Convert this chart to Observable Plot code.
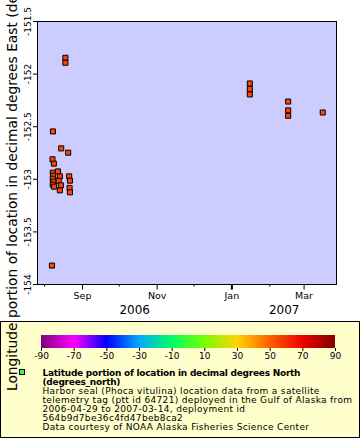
<!DOCTYPE html>
<html><head><meta charset="utf-8">
<script src="https://cdn.jsdelivr.net/npm/d3@7"></script>
<script src="https://cdn.jsdelivr.net/npm/@observablehq/plot@0.6"></script>
<style>
html,body{margin:0;padding:0;background:#fff;font-family:"DejaVu Sans",sans-serif;}
#wrap{position:relative;width:360px;height:440px;}
#chart{position:absolute;left:0;top:0;z-index:2;}
#chart svg{overflow:visible;}
#legend{position:absolute;left:0;top:321px;width:360px;height:117px;box-sizing:border-box;border:1px solid #000;background:#ffffcc;z-index:1;}
#bar{position:absolute;left:0;top:0;}
#swatch{position:absolute;left:18px;top:47px;width:4px;height:4px;border:1px solid #000;background:#33ff33;}
#txt{position:absolute;left:41.5px;top:46.5px;font-size:9px;line-height:9px;letter-spacing:0.33px;color:#000;white-space:nowrap;}
#txt b{font-weight:bold;letter-spacing:-0.25px;}
</style></head>
<body><div id="wrap"><div id="chart"></div><div id="legend"><div id="bar"></div><div id="swatch"></div><div id="txt"></div></div></div>
<script>
// ---- data ----
const times = [
  "2006-08-07T00:00Z","2006-08-07T19:00Z","2006-08-07T11:00Z","2006-08-08T14:00Z",
  "2006-08-07T16:00Z","2006-08-08T00:00Z","2006-08-07T16:00Z","2006-08-08T10:00Z","2006-08-07T16:00Z","2006-08-08T19:00Z",
  "2006-08-11T22:00Z","2006-08-13T12:00Z","2006-08-12T12:00Z","2006-08-14T07:00Z","2006-08-13T12:00Z","2006-08-14T14:00Z",
  "2006-08-18T00:00Z","2006-08-18T00:00Z","2006-08-20T07:00Z",
  "2006-08-21T02:00Z","2006-08-21T17:00Z","2006-08-21T10:00Z","2006-08-21T17:00Z",
  "2007-01-15T16:00Z","2007-01-15T16:00Z","2007-01-15T16:00Z",
  "2007-02-16T00:00Z","2007-02-16T00:00Z","2007-02-16T00:00Z",
  "2007-03-16T06:00Z"
];
const lons = [
  -153.82,-152.545,-152.81,-152.851,
  -152.937,-152.965,-152.994,-153.022,-153.051,-153.07,
  -152.925,-152.972,-153.014,-153.057,-153.105,-152.706,
  -151.845,-151.892,-152.747,
  -152.972,-153.013,-153.082,-153.124,
  -152.089,-152.142,-152.193,
  -152.261,-152.345,-152.396,
  -152.365
];
const xDomain = ["2006-07-26T05:00Z","2007-03-27T12:00Z"];
const yDomain = [-154, -151.5];
const yTicks = [-154, -153.5, -153, -152.5, -152, -151.5];
const majorMonths = ["2006-09-01","2006-11-01","2007-01-01","2007-03-01"];
const minorMonths = ["2006-08-01","2006-10-01","2006-12-01","2007-02-01"];
const yearStarts = ["2007-01-01"];
const yLabel = "Longitude portion of location in decimal degrees East (degrees_east)";
const barTicks = [-90,-70,-50,-30,-10,10,30,50,70,90];
const barStops = [-90,-70,-50,-30,-10,10,30,50,70,90];
const barColors = ["#800080","#ff00ff","#0000ff","#00a8ff","#00ff66","#77ff00","#ffd400","#ff6000","#ee0000","#800000"];
const legendTitle = ["Latitude portion of location in decimal degrees North","(degrees_north)"];
const legendLines = [
  "Harbor seal (Phoca vitulina) location data from a satellite",
  "telemetry tag (ptt id 64721) deployed in the Gulf of Alaska from",
  "2006-04-29 to 2007-03-14, deployment id",
  "564b9d7be36c4fd47beb8ca2",
  "Data courtesy of NOAA Alaska Fisheries Science Center"
];
const markerFill = "#ff4400";

// ---- build ----
const D = s => new Date(s);
const data = times.map((t,i) => ({t: D(t), lon: lons[i]}));
const dom = xDomain.map(D);
const yearB = D(yearStarts[0]);
const yearMids = [new Date((+dom[0] + +yearB)/2), new Date((+yearB + +dom[1])/2)];

const chart = Plot.plot({
  width: 360, height: 321,
  marginLeft: 37, marginRight: 24, marginTop: 21, marginBottom: 37,
  style: {fontFamily: "DejaVu Sans", background: "transparent", overflow: "visible", color: "#000"},
  x: {type: "utc", domain: dom},
  y: {domain: yDomain},
  marks: [
    Plot.frame({fill: "#ccccff"}),
    Plot.dot(data, {x: "t", y: "lon", symbol: "square", r: 2.85, fill: markerFill, stroke: "#000", strokeWidth: 1}),
    Plot.axisY({ticks: yTicks, tickSize: 4, tickPadding: 3, tickRotate: -90, tickFormat: d => String(d), fontSize: 9, label: null}),
    Plot.axisY({ticks: [], label: yLabel, labelAnchor: "center", labelOffset: 30, labelArrow: "none", fontSize: 13.8}),
    Plot.axisX({ticks: majorMonths.map(D), tickFormat: d3.utcFormat("%b"), tickSize: 5.5, tickPadding: 2, fontSize: 9.5, label: null}),
    Plot.axisX({ticks: minorMonths.map(D), tickFormat: () => "", tickSize: 2.5, label: null}),
    Plot.axisX({ticks: yearStarts.map(D), tickFormat: () => "", tickSize: 5.5, strokeWidth: 2, label: null}),
    Plot.axisX({ticks: yearMids, tickFormat: d3.utcFormat("%Y"), tickSize: 0, tickPadding: 21, fontSize: 12, label: null}),
    Plot.frame({stroke: "#000", strokeWidth: 1})
  ]
});
document.getElementById("chart").append(chart);

const steps = d3.range(-90, 90, 0.5);
const bar = Plot.plot({
  width: 358, height: 41,
  marginLeft: 40, marginRight: 24, marginTop: 13, marginBottom: 15,
  style: {fontFamily: "DejaVu Sans", background: "transparent", color: "#000"},
  x: {domain: [-90, 90]},
  color: {type: "linear", domain: barStops, range: barColors, interpolate: "rgb"},
  marks: [
    Plot.rect(steps, {x1: d => d, x2: d => d + 0.6, fill: d => d + 0.25, shapeRendering: "crispEdges"}),
    Plot.axisX({ticks: barTicks, tickFormat: d => String(d), tickSize: 3, tickPadding: 1, fontSize: 9, label: null})
  ]
});
document.getElementById("bar").append(bar);

const txt = document.getElementById("txt");
txt.innerHTML = legendTitle.map(s => "<b>" + s + "</b>").join("<br>") + "<br>" + legendLines.join("<br>");
</script>
</body></html>
